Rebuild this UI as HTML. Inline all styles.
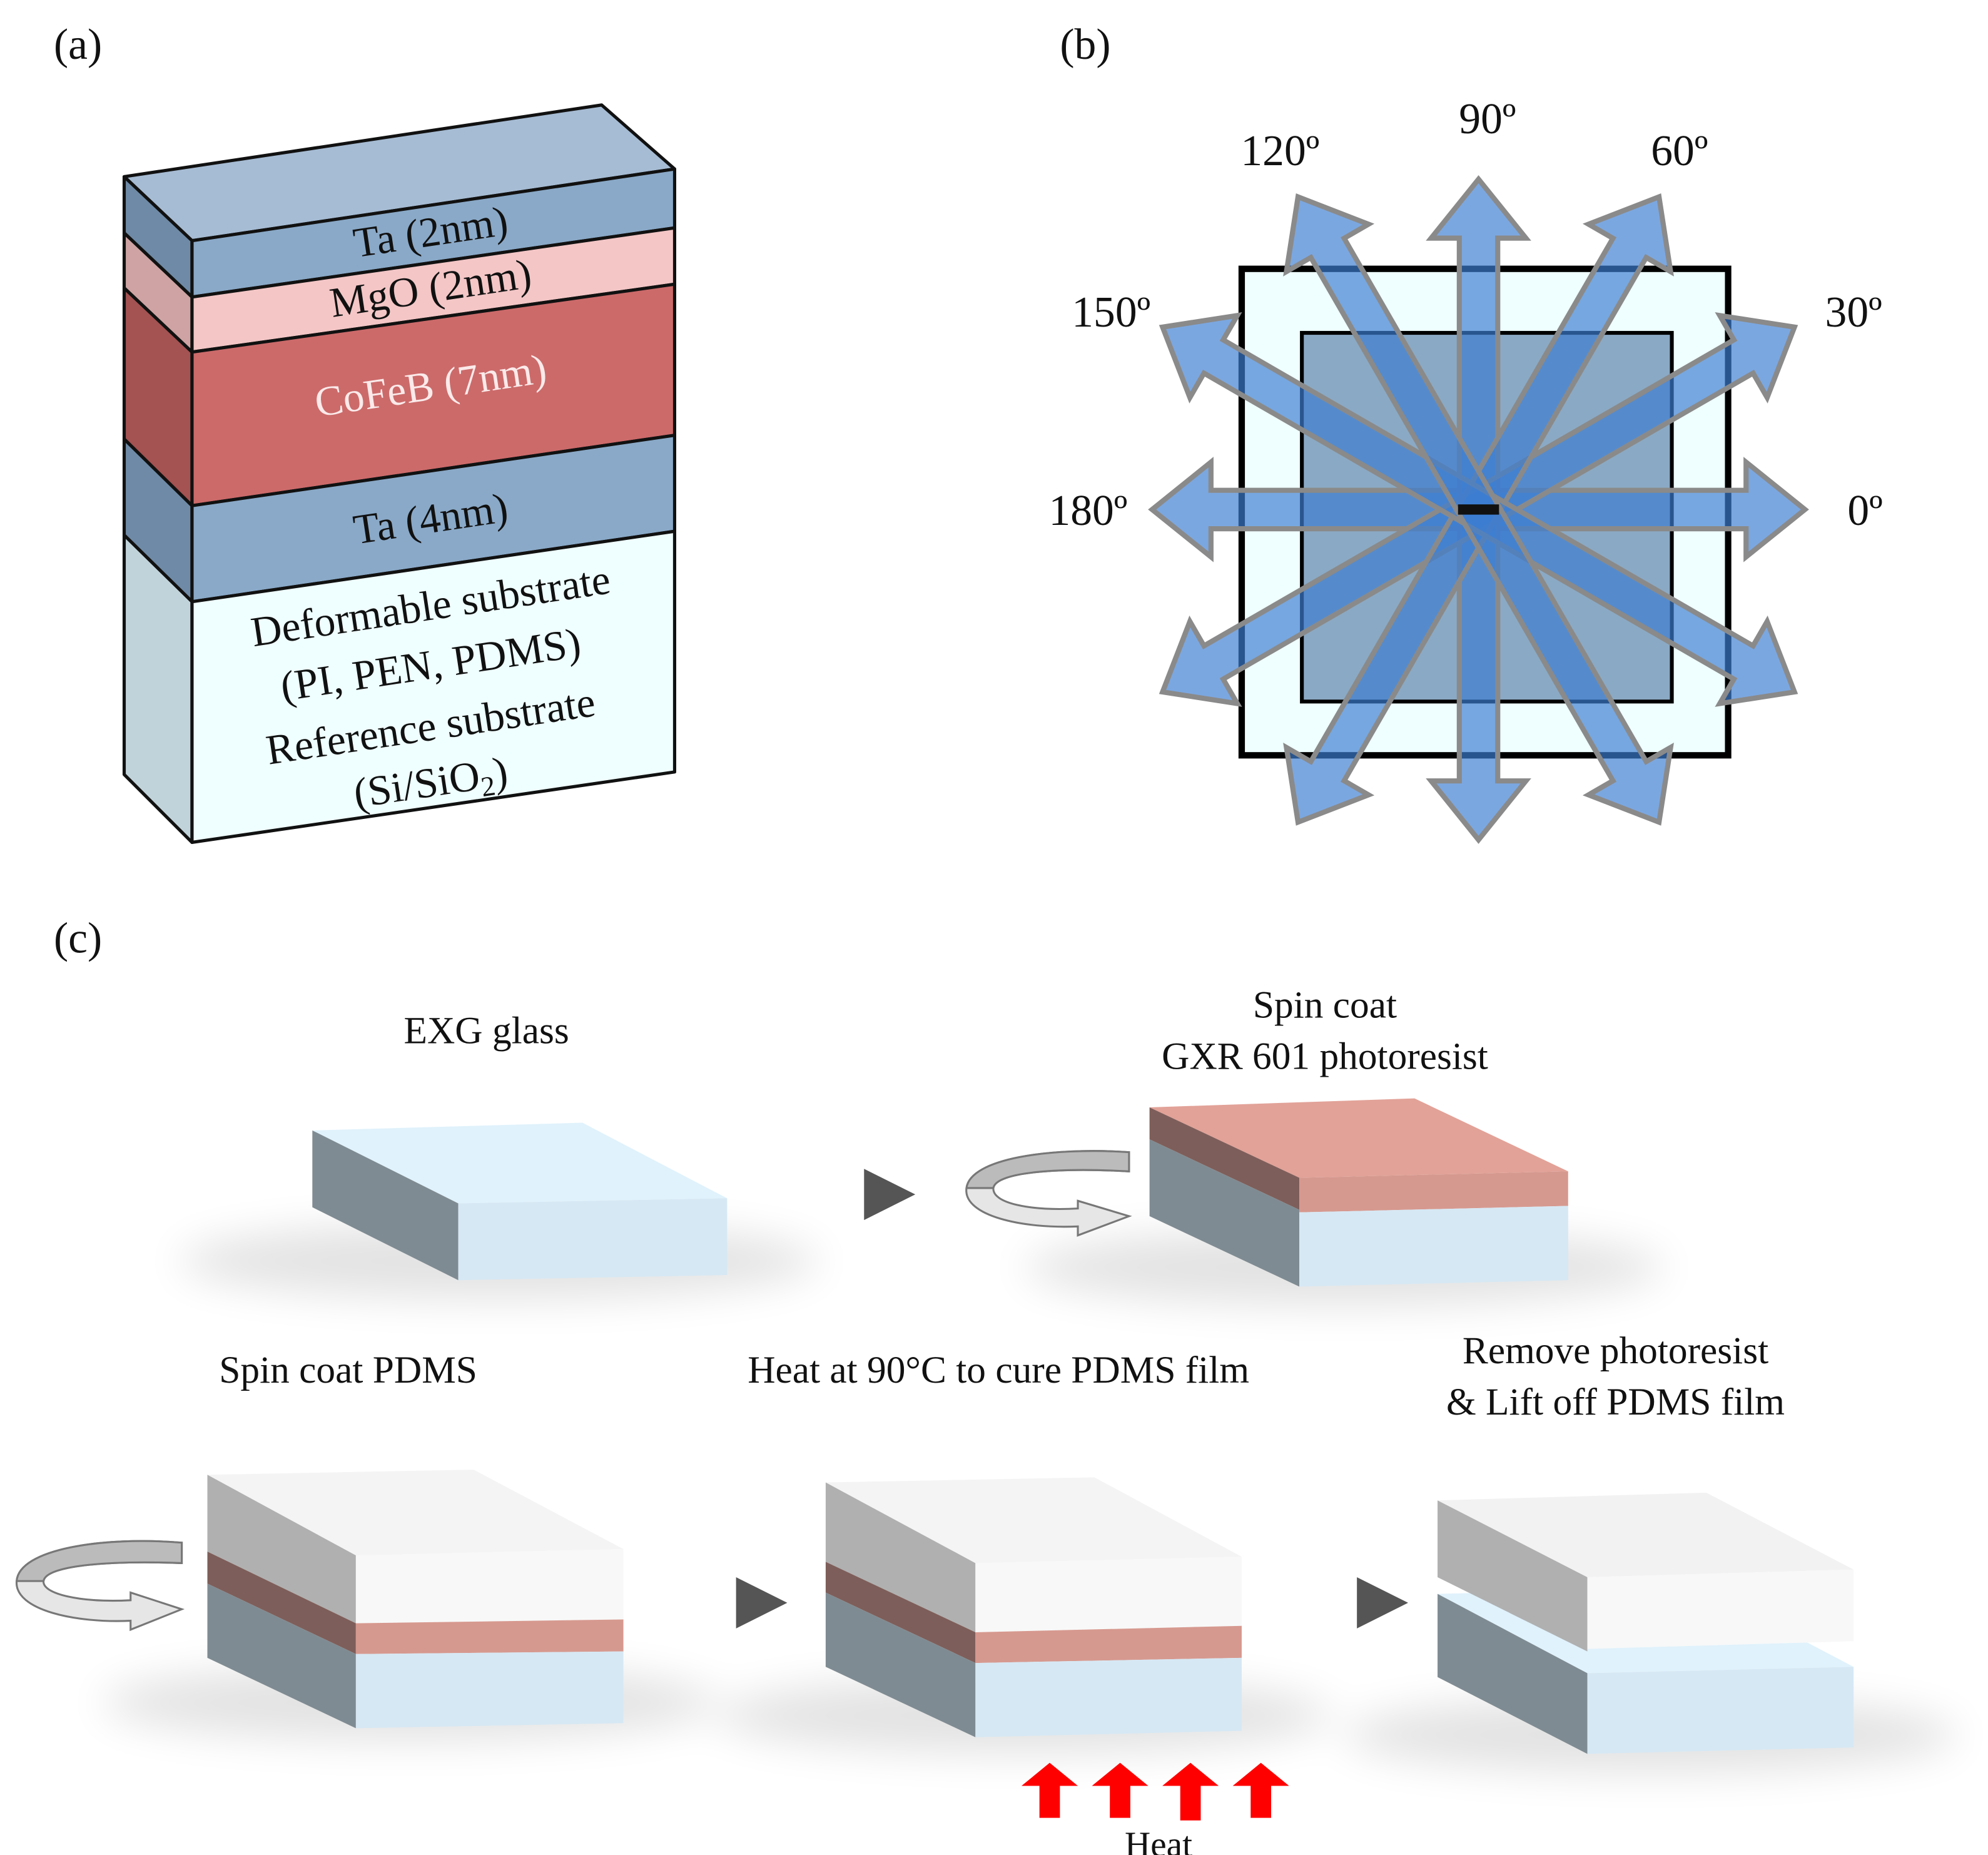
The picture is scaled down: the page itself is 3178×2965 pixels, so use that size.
<!DOCTYPE html>
<html><head><meta charset="utf-8"><style>
html,body{margin:0;padding:0;background:#fff;}
svg{display:block;}
text{font-family:"Liberation Serif",serif;fill:#111;}
</style></head><body>
<svg width="3178" height="2965" viewBox="0 0 1553 1449" preserveAspectRatio="none" xmlns="http://www.w3.org/2000/svg">
<defs>
<filter id="blur" x="-50%" y="-50%" width="200%" height="200%"><feGaussianBlur stdDeviation="16"/></filter>
</defs>
<rect width="1553" height="1449" fill="#fff"/>

<!-- (a) -->
<text x="42" y="46" font-size="34">(a)</text>
<g stroke="#111" stroke-width="2.5" stroke-linejoin="round">
<polygon points="97,138 470,82 527,132 150,188" fill="#a6bcd4"/>
<polygon points="97,138 150,188 150,232 97,182" fill="#6e8aa6"/>
<polygon points="97,182 150,232 150,275 97,225" fill="#cfa3a3"/>
<polygon points="97,225 150,275 150,395 97,343" fill="#a45252"/>
<polygon points="97,343 150,395 150,470 97,418" fill="#6e8aa6"/>
<polygon points="97,418 150,470 150,658 97,605" fill="#c1d3da"/>
<polygon points="150,188 527,132 527,178 150,232" fill="#8aa9c8"/>
<polygon points="150,232 527,178 527,222 150,275" fill="#f4c6c6"/>
<polygon points="150,275 527,222 527,340 150,395" fill="#cc6a6a"/>
<polygon points="150,395 527,340 527,415 150,470" fill="#8aa9c8"/>
<polygon points="150,470 527,415 527,603 150,658" fill="#effefe"/>
</g>
<g font-size="33" text-anchor="middle">
<text transform="translate(338,192) rotate(-8.5)">Ta (2nm)</text>
<text transform="translate(338,236) rotate(-8.5)">MgO (2nm)</text>
<text transform="translate(338,312) rotate(-8.5)" style="fill:#fbeaea">CoFeB (7nm)</text>
<text transform="translate(338,416) rotate(-8.5)">Ta (4nm)</text>
<text transform="translate(338,484) rotate(-8.5)">Deformable  substrate</text>
<text transform="translate(338,530) rotate(-8.5)">(PI, PEN, PDMS)</text>
<text transform="translate(338,578) rotate(-8.5)">Reference  substrate</text>
<text transform="translate(338,622) rotate(-8.5)">(Si/SiO<tspan font-size="22" dy="6">2</tspan><tspan dy="-6">)</tspan></text>
</g>

<!-- (b) -->
<text x="828" y="46" font-size="34">(b)</text>
<rect x="970" y="210" width="380" height="380" fill="#effefe" stroke="#000" stroke-width="5"/>
<rect x="1017" y="260" width="289" height="288" fill="#8aa9c4" stroke="#000" stroke-width="3"/>
<g transform="translate(1155,398)" fill="rgba(60,125,210,0.68)" stroke="#8a8a8a" stroke-width="4" stroke-linejoin="miter">
<path d="M-255,0 L-209,-37 L-209,-15 L209,-15 L209,-37 L255,0 L209,37 L209,15 L-209,15 L-209,37 Z"/>
<path transform="rotate(90)" d="M-258,0 L-212,-37 L-212,-15 L212,-15 L212,-37 L258,0 L212,37 L212,15 L-212,15 L-212,37 Z"/>
<path transform="rotate(-30)" d="M-285,0 L-239,-37 L-239,-15 L239,-15 L239,-37 L285,0 L239,37 L239,15 L-239,15 L-239,37 Z"/>
<path transform="rotate(-60)" d="M-282,0 L-236,-37 L-236,-15 L236,-15 L236,-37 L282,0 L236,37 L236,15 L-236,15 L-236,37 Z"/>
<path transform="rotate(30)" d="M-285,0 L-239,-37 L-239,-15 L239,-15 L239,-37 L285,0 L239,37 L239,15 L-239,15 L-239,37 Z"/>
<path transform="rotate(60)" d="M-282,0 L-236,-37 L-236,-15 L236,-15 L236,-37 L282,0 L236,37 L236,15 L-236,15 L-236,37 Z"/>
<rect x="-16" y="-4" width="32" height="8" fill="#111" stroke="none"/>
</g>
<g font-size="34" text-anchor="middle">
<text x="1162" y="104">90º</text>
<text x="1000" y="129">120º</text>
<text x="1312" y="129">60º</text>
<text x="868" y="255">150º</text>
<text x="1448" y="255">30º</text>
<text x="850" y="410">180º</text>
<text x="1457" y="410">0º</text>
</g>

<!-- (c) -->
<text x="42" y="744" font-size="34">(c)</text>
<g font-size="30" text-anchor="middle">
<text x="380" y="815">EXG glass</text>
<text x="1035" y="795">Spin coat</text>
<text x="1035" y="835">GXR 601 photoresist</text>
<text x="272" y="1080">Spin coat PDMS</text>
<text x="780" y="1080">Heat at 90°C to cure PDMS film</text>
<text x="1262" y="1065">Remove photoresist</text>
<text x="1262" y="1105">&amp; Lift off PDMS film</text>
<text x="905" y="1450" font-size="28">Heat</text>
</g>

<!-- shadows -->
<g fill="#000" opacity="0.11" filter="url(#blur)">
<ellipse cx="390" cy="985" rx="250" ry="30"/>
<ellipse cx="1050" cy="990" rx="250" ry="30"/>
<ellipse cx="320" cy="1330" rx="240" ry="30"/>
<ellipse cx="800" cy="1340" rx="240" ry="30"/>
<ellipse cx="1290" cy="1355" rx="240" ry="30"/>
</g>

<!-- block 1 -->
<polygon points="244,883 455,877 568,936 358,940" fill="#e0f2fc"/>
<polygon points="244,883 358,940 358,1000 244,943" fill="#7f8b92"/>
<polygon points="358,940 568,936 568,996 358,1000" fill="#d6e8f4"/>

<polygon points="675,913 715,933 675,953" fill="#555"/>
<g stroke="#777" stroke-width="1.5">
<path d="M882,900 C820,896 758,905 755,928 C752,950 800,960 842,958 L842,965 L882,950 L842,938 L842,944 C805,946 775,940 776,928 C778,915 830,912 882,915 Z" fill="#e6e6e6"/>
<path d="M882,900 C820,896 758,905 755,928 L776,928 C778,915 830,912 882,915 Z" fill="#bbb"/>
</g>

<!-- block 2 -->
<polygon points="898,865 1105,858 1225,915 1015,920" fill="#e2a298"/>
<polygon points="898,865 1015,920 1015,945 898,890" fill="#7e5e5a"/>
<polygon points="898,890 1015,945 1015,1005 898,950" fill="#7f8b92"/>
<polygon points="1015,920 1225,915 1225,942 1015,947" fill="#d6998f"/>
<polygon points="1015,947 1225,942 1225,1000 1015,1005" fill="#d6e8f4"/>

<!-- block A -->
<polygon points="162,1152 370,1148 487,1210 278,1215" fill="#f4f4f4"/>
<polygon points="162,1152 278,1215 278,1268 162,1212" fill="#b0b0b0"/>
<polygon points="162,1212 278,1268 278,1292 162,1237" fill="#7e5e5a"/>
<polygon points="162,1237 278,1292 278,1350 162,1295" fill="#7f8b92"/>
<polygon points="278,1215 487,1210 487,1265 278,1268" fill="#f8f8f8"/>
<polygon points="278,1268 487,1265 487,1290 278,1292" fill="#d6998f"/>
<polygon points="278,1292 487,1290 487,1346 278,1350" fill="#d6e8f4"/>
<g stroke="#777" stroke-width="1.5">
<path d="M142,1205 C80,1200 15,1210 13,1235 C11,1258 60,1268 102,1266 L102,1273 L142,1257 L102,1244 L102,1250 C62,1252 33,1245 34,1235 C36,1222 90,1219 142,1221 Z" fill="#e6e6e6"/>
<path d="M142,1205 C80,1200 15,1210 13,1235 L34,1235 C36,1222 90,1219 142,1221 Z" fill="#bbb"/>
</g>

<polygon points="575,1232 615,1252 575,1272" fill="#555"/>

<!-- block B -->
<polygon points="645,1158 855,1154 970,1216 762,1221" fill="#f4f4f4"/>
<polygon points="645,1158 762,1221 762,1275 645,1220" fill="#b0b0b0"/>
<polygon points="645,1220 762,1275 762,1299 645,1244" fill="#7e5e5a"/>
<polygon points="645,1244 762,1299 762,1357 645,1302" fill="#7f8b92"/>
<polygon points="762,1221 970,1216 970,1270 762,1275" fill="#f8f8f8"/>
<polygon points="762,1275 970,1270 970,1295 762,1299" fill="#d6998f"/>
<polygon points="762,1299 970,1295 970,1352 762,1357" fill="#d6e8f4"/>

<polygon points="1060,1232 1100,1252 1060,1272" fill="#555"/>

<!-- block C -->
<polygon points="1123,1245 1330,1240 1448,1302 1240,1307" fill="#e0f2fc"/>
<polygon points="1123,1245 1240,1307 1240,1370 1123,1310" fill="#7f8b92"/>
<polygon points="1240,1307 1448,1302 1448,1365 1240,1370" fill="#d6e8f4"/>
<polygon points="1123,1172 1333,1166 1448,1226 1240,1232" fill="#f2f2f2"/>
<polygon points="1123,1172 1240,1232 1240,1290 1123,1232" fill="#b0b0b0"/>
<polygon points="1240,1232 1448,1226 1448,1282 1240,1288" fill="#f8f8f8"/>

<!-- heat arrows -->
<g fill="#ff0000">
<polygon points="798,1395 820,1377 842,1395 828,1395 828,1420 812,1420 812,1395"/>
<polygon points="853,1395 875,1377 897,1395 883,1395 883,1420 867,1420 867,1395"/>
<polygon points="908,1395 930,1377 952,1395 938,1395 938,1422 922,1422 922,1395"/>
<polygon points="963,1395 985,1377 1007,1395 993,1395 993,1420 977,1420 977,1395"/>
</g>
</svg>
</body></html>
